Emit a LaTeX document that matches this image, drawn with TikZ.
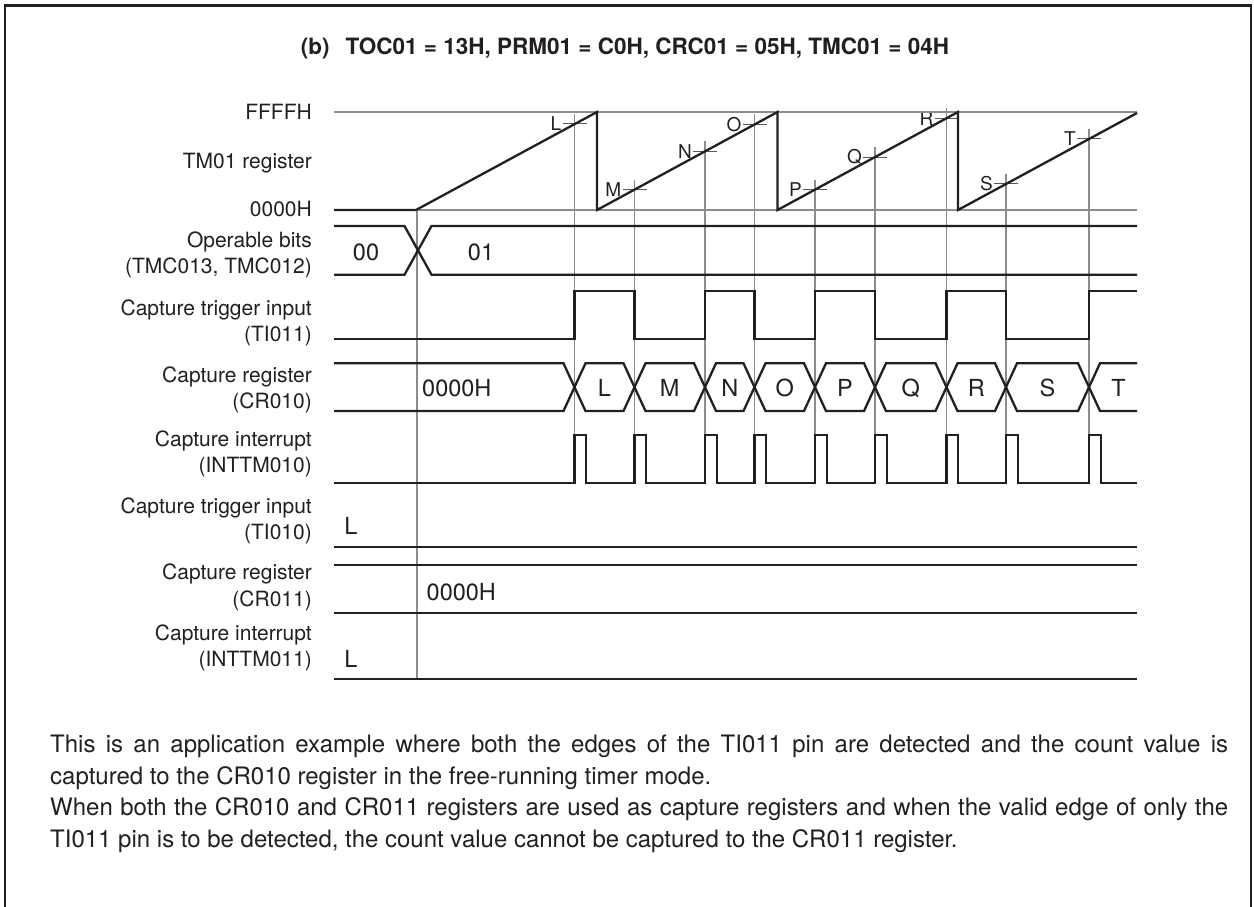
\documentclass[tikz,border=0pt]{standalone}
\usepackage{fontspec}
\setmainfont{TeX Gyre Heros}
\usepackage{tikz}
\usetikzlibrary{calc}
\definecolor{ink}{HTML}{231F20}
\definecolor{guide}{HTML}{8C8C8C}
\tikzset{
  sig/.style={draw=ink, line width=2.3pt},
  grid/.style={draw=guide, line width=1.2pt},
  tick/.style={draw=ink!75, line width=1pt},
  lbl/.style={anchor=east, align=right, inner sep=0pt, text=ink,
              font=\fontsize{21}{26.7}\selectfont},
  val/.style={inner sep=0pt, text=ink, font=\fontsize{23.5}{28}\selectfont},
  mkr/.style={anchor=east, inner sep=1pt, text=ink, font=\fontsize{19}{22}\selectfont},
  ttl/.style={inner sep=0pt, text=ink, font=\fontsize{22.5}{26}\selectfont\bfseries},
  body/.style={anchor=base west, inner sep=0pt, text=ink, font=\fontsize{24}{29}\selectfont},
}

\begin{document}
\begin{tikzpicture}[x=1pt,y=-1pt]
\useasboundingbox (0,0) rectangle (1254,907);
\draw[ink, line width=2.5pt] (5,912) -- (5,5.5) -- (1251,5.5) -- (1251,912);

\node[ttl] (title) at (625,48) {(b)\hspace{16pt}TOC01 = 13H, PRM01 = C0H, CRC01 = 05H, TMC01 = 04H};

% --- row labels ---
\node[lbl] (lffff) at (312,112)   {FFFFH};
\node[lbl] (ltm)   at (312,163)   {TM01 register};
\node[lbl] (lzero) at (312,209)   {0000H};
\node[lbl] (lop)   at (312,255)   {Operable bits\\(TMC013, TMC012)};
\node[lbl] (ltia)  at (312,323)   {Capture trigger input\\(TI011)};
\node[lbl] (lcra)  at (312,390)   {Capture register\\(CR010)};
\node[lbl] (lina)  at (312,454)   {Capture interrupt\\(INTTM010)};
\node[lbl] (ltib)  at (312,521)   {Capture trigger input\\(TI010)};
\node[lbl] (lcrb)  at (312,587.5) {Capture register\\(CR011)};
\node[lbl] (linb)  at (312,648)   {Capture interrupt\\(INTTM011)};

% --- guides ---
\draw[grid] (417,210) -- (417,679);
\foreach \n/\x/\s in {L/574.5/416, M/634.5/597, N/705/597, O/754.5/597,
                      P/815/777.5, Q/875/777.5, R/946.5/777.5, S/1006/958, T/1089/958}{
  \pgfmathsetmacro\yy{210-(\x-\s)/180.5*98}
  \coordinate (c\n) at (\x,\yy);
  \draw[grid] (\x,\yy-10) -- (\x,483);
  \draw[tick] (\x-12,\yy) -- (\x+12,\yy);
  \node[mkr] (m\n) at (\x-12,\yy) {\n};
}

% --- TM01 count ---
\draw[grid] (334,112) -- (1137,112);
\draw[grid] (334,210) -- (1137,210);
\draw[sig] (334,210) -- (416,210) -- (597,112) -- (597,210) -- (777.5,112) -- (777.5,210)
  -- (958,112) -- (958,210) -- (1137,113);

% --- operable bits ---
\draw[sig] (334,226) -- (404.5,226) -- (431.5,274.7) -- (1137,274.7);
\draw[sig] (334,274.7) -- (404.5,274.7) -- (431.5,226) -- (1137,226);
\node[val] (opa) at (366,252) {00};
\node[val] (opb) at (481,252) {01};

% --- TI011 ---
\draw[sig] (334,339.3) -- (574.5,339.3) |- (634.5,290.7) |- (705,339.3) |- (754.5,290.7)
  |- (815,339.3) |- (875,290.7) |- (946.5,339.3) |- (1006,290.7) |- (1089,339.3)
  |- (1137,290.7);

% --- CR010 ---
\draw[sig] (334,363.3) \foreach \e/\p/\q in {574.5/363.3/411, 634.5/411/363.3, 705/363.3/411,
  754.5/411/363.3, 815/363.3/411, 875/411/363.3, 946.5/363.3/411, 1006/411/363.3,
  1089/363.3/411} { -- (\e-11,\p) -- (\e+11,\q) } -- (1137,411);
\draw[sig] (334,411) \foreach \e/\p/\q in {574.5/411/363.3, 634.5/363.3/411, 705/411/363.3,
  754.5/363.3/411, 815/411/363.3, 875/363.3/411, 946.5/411/363.3, 1006/363.3/411,
  1089/411/363.3} { -- (\e-11,\p) -- (\e+11,\q) } -- (1137,363.3);
\node[val, anchor=west] (cra0) at (422,388) {0000H};
\foreach \n/\x in {L/604.5, M/669.75, N/729.75, O/784.75, P/845, Q/910.75, R/976.25,
                   S/1047.5, T/1118.5}
  \node[val] (b\n) at (\x,388) {\n};

% --- INTTM010 ---
\draw[sig] (334,483.3) \foreach \e in {574.5, 634.5, 705, 754.5, 815, 875, 946.5, 1006, 1089}
  { -- (\e,483.3) -- (\e,435) -- (\e+11.7,435) -- (\e+11.7,483.3) } -- (1137,483.3);

% --- TI010, CR011, INTTM011 ---
\draw[sig] (334,546.7) -- (1137,546.7);
\node[val] (tibL) at (351,526) {L};
\draw[sig] (334,565) -- (1137,565);
\draw[sig] (334,612.7) -- (1137,612.7);
\node[val, anchor=west] (crb0) at (426.5,591.7) {0000H};
\draw[sig] (334,679.3) -- (1137,679.3);
\node[val] (inbL) at (351,659.3) {L};

% --- note ---
\node[body] (noteA) at (50,752.5) {\makebox[1178pt][s]{This is an application example where both the edges of the TI011 pin are detected and the count value is}};
\node[body] (noteB) at (50,784.2) {captured to the CR010 register in the free-running timer mode.};
\node[body] (noteC) at (50,815.9) {\makebox[1178pt][s]{When both the CR010 and CR011 registers are used as capture registers and when the valid edge of only the}};
\node[body] (noteD) at (50,847.6) {TI011 pin is to be detected, the count value cannot be captured to the CR011 register.};

\end{tikzpicture}
\end{document}
